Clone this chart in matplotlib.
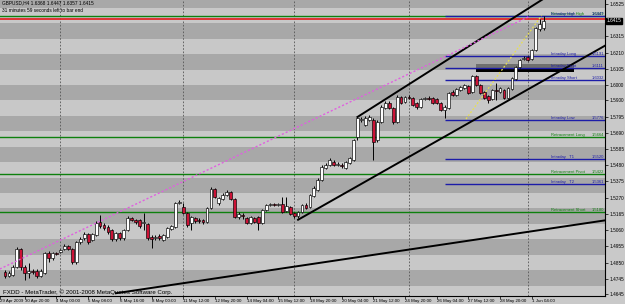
import numpy as np
import matplotlib
matplotlib.use('Agg')
import matplotlib.pyplot as plt

plt.rcParams['font.family'] = ['Liberation Sans', 'DejaVu Sans']

# GBPUSD H4 candles, bar 0 = leftmost visible bar
opens = [1.4788, 1.4763, 1.4769, 1.4821, 1.4937, 1.4821, 1.4782, 1.4795, 1.4795, 1.4763,
         1.4782, 1.4912, 1.4879, 1.4912, 1.4918, 1.4937, 1.4957, 1.4937, 1.4853, 1.4983,
         1.5009, 1.5035, 1.4996, 1.5028, 1.5112, 1.5093, 1.5080, 1.5061, 1.5002, 1.5041,
         1.5009, 1.5061, 1.5138, 1.5125, 1.5125, 1.5106, 1.5099, 1.5015, 1.5009, 1.5022,
         1.4996, 1.5015, 1.5067, 1.5080, 1.5236, 1.5210, 1.5171, 1.5106, 1.5138, 1.5125,
         1.5125, 1.5112, 1.5203, 1.5326, 1.5236, 1.5261, 1.5287, 1.5307, 1.5261, 1.5145,
         1.5158, 1.5138, 1.5106, 1.5138, 1.5145, 1.5106, 1.5190, 1.5223, 1.5229, 1.5223,
         1.5229, 1.5184, 1.5210, 1.5171, 1.5151, 1.5177, 1.5223, 1.5210, 1.5281, 1.5320,
         1.5385, 1.5462, 1.5482, 1.5501, 1.5482, 1.5482, 1.5462, 1.5495, 1.5514, 1.5663,
         1.5773, 1.5741, 1.5773, 1.5773, 1.5644, 1.5760, 1.5851, 1.5884, 1.5851, 1.5760,
         1.5922, 1.5890, 1.5922, 1.5916, 1.5884, 1.5858, 1.5909, 1.5916, 1.5916, 1.5909,
         1.5884, 1.5838, 1.5851, 1.5955, 1.5935, 1.5968, 1.5981, 1.5994, 1.5955, 1.6059,
         1.6000, 1.5955, 1.5929, 1.5909, 1.5968, 1.5955, 1.5968, 1.5916, 1.5974, 1.6039,
         1.6117, 1.6169, 1.6182, 1.6169, 1.6227, 1.6363, 1.6368]
highs = [1.4801, 1.4795, 1.4834, 1.4950, 1.4944, 1.4834, 1.4847, 1.4808, 1.4808, 1.4808,
         1.4918, 1.4925, 1.4918, 1.4918, 1.4937, 1.4970, 1.4963, 1.4944, 1.4989, 1.5015,
         1.5048, 1.5041, 1.5041, 1.5119, 1.5158, 1.5106, 1.5093, 1.5067, 1.5048, 1.5048,
         1.5067, 1.5151, 1.5145, 1.5132, 1.5132, 1.5171, 1.5106, 1.5028, 1.5028, 1.5035,
         1.5035, 1.5080, 1.5093, 1.5242, 1.5255, 1.5236, 1.5177, 1.5151, 1.5145, 1.5138,
         1.5132, 1.5210, 1.5339, 1.5333, 1.5274, 1.5300, 1.5320, 1.5313, 1.5268, 1.5177,
         1.5171, 1.5145, 1.5151, 1.5145, 1.5151, 1.5197, 1.5229, 1.5236, 1.5236, 1.5236,
         1.5274, 1.5274, 1.5216, 1.5177, 1.5184, 1.5229, 1.5236, 1.5294, 1.5346, 1.5398,
         1.5482, 1.5495, 1.5527, 1.5514, 1.5501, 1.5495, 1.5508, 1.5534, 1.5650, 1.5793,
         1.5793, 1.5799, 1.5806, 1.5786, 1.5773, 1.5871, 1.5897, 1.5897, 1.5858, 1.5935,
         1.5929, 1.5929, 1.5935, 1.5922, 1.5890, 1.5916, 1.5922, 1.5929, 1.5922, 1.5916,
         1.5890, 1.5871, 1.5955, 1.5968, 1.5981, 1.5994, 1.6007, 1.6000, 1.6065, 1.6065,
         1.6007, 1.5961, 1.5935, 1.5974, 1.6013, 1.5987, 1.5974, 1.5987, 1.6052, 1.6123,
         1.6169, 1.6188, 1.6188, 1.6233, 1.6376, 1.6428, 1.6447]
lows = [1.4750, 1.4756, 1.4763, 1.4814, 1.4801, 1.4737, 1.4750, 1.4775, 1.4750, 1.4756,
        1.4775, 1.4853, 1.4866, 1.4899, 1.4912, 1.4931, 1.4931, 1.4840, 1.4840, 1.4970,
        1.4996, 1.4970, 1.4989, 1.5022, 1.5074, 1.5061, 1.5035, 1.4989, 1.4989, 1.4996,
        1.4996, 1.5054, 1.5119, 1.5099, 1.5074, 1.5061, 1.4996, 1.4944, 1.4996, 1.4996,
        1.4989, 1.5009, 1.5061, 1.5074, 1.5229, 1.5164, 1.5080, 1.5061, 1.5106, 1.5106,
        1.5099, 1.5106, 1.5197, 1.5268, 1.5223, 1.5255, 1.5281, 1.5255, 1.5138, 1.5132,
        1.5132, 1.5099, 1.5099, 1.5106, 1.5061, 1.5099, 1.5184, 1.5216, 1.5216, 1.5216,
        1.5171, 1.5177, 1.5158, 1.5138, 1.5138, 1.5171, 1.5197, 1.5203, 1.5274, 1.5313,
        1.5378, 1.5456, 1.5475, 1.5475, 1.5475, 1.5462, 1.5456, 1.5488, 1.5508, 1.5644,
        1.5760, 1.5735, 1.5767, 1.5514, 1.5631, 1.5754, 1.5845, 1.5845, 1.5747, 1.5754,
        1.5877, 1.5884, 1.5909, 1.5864, 1.5845, 1.5851, 1.5903, 1.5903, 1.5877, 1.5877,
        1.5832, 1.5786, 1.5845, 1.5929, 1.5929, 1.5961, 1.5974, 1.5942, 1.5948, 1.5994,
        1.5942, 1.5909, 1.5884, 1.5903, 1.5903, 1.5948, 1.5909, 1.5909, 1.5968, 1.6033,
        1.6110, 1.6162, 1.6156, 1.6162, 1.6221, 1.6350, 1.6357]
closes = [1.4763, 1.4782, 1.4821, 1.4937, 1.4821, 1.4782, 1.4795, 1.4788, 1.4763, 1.4795,
          1.4912, 1.4879, 1.4912, 1.4905, 1.4931, 1.4957, 1.4937, 1.4853, 1.4983, 1.5002,
          1.5035, 1.4983, 1.5035, 1.5106, 1.5087, 1.5074, 1.5048, 1.5002, 1.5041, 1.5009,
          1.5061, 1.5138, 1.5125, 1.5112, 1.5087, 1.5112, 1.5009, 1.5002, 1.5015, 1.5009,
          1.5028, 1.5074, 1.5087, 1.5236, 1.5242, 1.5171, 1.5093, 1.5145, 1.5119, 1.5119,
          1.5112, 1.5203, 1.5326, 1.5274, 1.5268, 1.5287, 1.5307, 1.5261, 1.5145, 1.5164,
          1.5151, 1.5106, 1.5145, 1.5112, 1.5106, 1.5190, 1.5223, 1.5229, 1.5223, 1.5229,
          1.5177, 1.5216, 1.5164, 1.5151, 1.5177, 1.5223, 1.5203, 1.5287, 1.5333, 1.5385,
          1.5469, 1.5482, 1.5514, 1.5482, 1.5488, 1.5475, 1.5501, 1.5527, 1.5644, 1.5786,
          1.5780, 1.5786, 1.5793, 1.5631, 1.5760, 1.5858, 1.5884, 1.5851, 1.5760, 1.5922,
          1.5884, 1.5922, 1.5916, 1.5871, 1.5858, 1.5909, 1.5916, 1.5909, 1.5884, 1.5884,
          1.5838, 1.5858, 1.5948, 1.5935, 1.5974, 1.5987, 1.6000, 1.5948, 1.6059, 1.6000,
          1.5948, 1.5916, 1.5903, 1.5968, 1.5961, 1.5981, 1.5916, 1.5981, 1.6046, 1.6117,
          1.6162, 1.6175, 1.6162, 1.6227, 1.6370, 1.6395, 1.6415]

# axis labels
first_time_label = '29 Apr 2009'
time_labels = ['30 Apr 20:00', '4 May 00:00', '5 May 08:00', '6 May 16:00', '8 May 00:00',
               '11 May 12:00', '12 May 20:00', '14 May 04:00', '15 May 12:00', '18 May 20:00',
               '20 May 04:00', '21 May 12:00', '24 May 20:00', '26 May 04:00', '27 May 12:00',
               '28 May 20:00', '1 Jun 04:00']
# the 1.6420 label sits under the current price box
price_labels = ['1.6525', '1.6315', '1.6210', '1.6105', '1.6000', '1.5900', '1.5795',
                '1.5690', '1.5585', '1.5480', '1.5375', '1.5270', '1.5165', '1.5060', '1.4955',
                '1.4850', '1.4745', '1.4645']
week_start_bars = [14, 45, 73, 102, 132]
dark_zones = [1.47, 1.49, 1.51, 1.53, 1.55, 1.57, 1.59, 1.61, 1.63, 1.65]

# level lines
intraday_names = ['Intraday High', 'Intraday Long', 'Intraday Pivot', 'Intraday Short',
                  'Intraday Low', 'Intraday   T1', 'Intraday   T2']
intraday_values = [1.6447, 1.6191, 1.6111, 1.6032, 1.5776, 1.5520, 1.5361]
retr_names = ['Retracement High', 'Retracement Long', 'Retracement Pivot', 'Retracement Short']
retr_values = [1.6449, 1.5664, 1.5422, 1.5180]
red_level = 1.6431
bid = 1.6415

# drawn objects (bar, price)
upper_channel = [(89, 1.5793), (112, 1.6168)]
lower_channel = [(74, 1.5127), (110, 1.5651)]
long_support = [(28, 1.4651), (135, 1.5060)]
pink_line = [(-1.3, 1.4808), (132.6, 1.6447)]
yellow_line = [(116.4, 1.5780), (135.5, 1.6450)]
box_bars = (118.9, 143.7)
box_grey = (1.6104, 1.6136)
box_black = (1.6084, 1.6104)

fig = plt.figure(figsize=(6.25, 3.04), dpi=100)
fig.patch.set_facecolor('#c9c9c9')
ax = fig.add_axes([0, 8 / 304, 605 / 625, 296 / 304])
ax.set_facecolor('#c8c8c8')
ax.set_xlim(-1.26, 151.5)
ax.set_ylim(1.4633, 1.6551)

for z in dark_zones:
    ax.axhspan(z, z + 0.01, color='#a8a8a8', lw=0, zorder=0)

for b in week_start_bars:
    ax.axvline(b, color='#555555', lw=0.6, ls=(0, (2, 2)), zorder=1)

# rectangle object
ax.fill_between(box_bars, box_grey[0], box_grey[1], color='#6f6f6f', lw=0, zorder=2)
ax.fill_between(box_bars, box_black[0], box_black[1], color='black', lw=0, zorder=2)

# full width lines
for v in retr_values:
    ax.axhline(v, color='#0d800d', lw=1.0, zorder=2)
ax.axhline(red_level, color='#e02828', lw=1.3, zorder=2)

blue_start = 111.1
for v in intraday_values:
    ax.hlines(v, blue_start, 151.5, color='#1c1ca8', lw=1.0, zorder=2)

# candles
bars = np.arange(len(opens))
o = np.array(opens)
c = np.array(closes)
up = c >= o
lo = np.minimum(o, c)
h = np.maximum(np.abs(c - o), 0.00006)
ax.vlines(bars, lows, highs, color='black', lw=0.7, zorder=4)
ax.bar(bars[up], h[up], 0.72, bottom=lo[up], color='white', edgecolor='black', lw=0.45, zorder=5)
ax.bar(bars[~up], h[~up], 0.72, bottom=lo[~up], color='#cc1236', edgecolor='black', lw=0.45, zorder=5)


def ray(pts, **kw):
    (x0, y0), (x1, y1) = pts
    k = (y1 - y0) / (x1 - x0)
    ax.plot([x0, 152], [y0, y0 + k * (152 - x0)], **kw)


ray(upper_channel, color='black', lw=1.4, zorder=6)
ray(lower_channel, color='black', lw=1.4, zorder=6)
ray(long_support, color='black', lw=1.4, zorder=6)
ax.plot(*zip(*pink_line), color='#e060e0', lw=1.0, ls=(0, (1.5, 1.5)), zorder=6)
ax.plot(*zip(*yellow_line), color='#e8e050', lw=0.9, ls=(0, (1.5, 1.5)), zorder=6)

# level labels
fs = 3.4
lfs = 3.0
name_x, value_x = 137.9, 151.2
for n, v in zip(retr_names, retr_values):
    ax.text(name_x, v, n, color='#0d800d', fontsize=lfs, va='bottom', ha='left', zorder=7)
    ax.text(value_x, v, f'{v:.4f}', color='#0d800d', fontsize=lfs, va='bottom', ha='right', zorder=7)
for n, v in zip(intraday_names, intraday_values):
    ax.text(name_x, v, n, color='#1c1ca8', fontsize=lfs, va='bottom', ha='left', zorder=7)
    ax.text(value_x, v, f'{v:.4f}', color='#1c1ca8', fontsize=lfs, va='bottom', ha='right', zorder=7)

# header and copyright
ax.text(0.003, 0.998, 'GBPUSD,H4 1.6368 1.6447 1.6357 1.6415', transform=ax.transAxes,
        fontsize=fs, va='top', ha='left', zorder=8)
ax.text(0.003, 0.972, '31 minutes 59 seconds left to bar end', transform=ax.transAxes,
        fontsize=fs, va='top', ha='left', zorder=8)
ax.text(0.005, 0.005, 'FXDD - MetaTrader, © 2001-2008 MetaQuotes Software Corp.',
        transform=ax.transAxes, fontsize=4.4, va='bottom', ha='left', zorder=8)

# axes
for s in ['top', 'left']:
    ax.spines[s].set_visible(False)
for s in ['right', 'bottom']:
    ax.spines[s].set_color('black')
    ax.spines[s].set_linewidth(0.8)

ax.yaxis.tick_right()
ax.set_yticks([float(p) for p in price_labels], price_labels)
ax.tick_params(axis='y', labelsize=fs, length=2, width=0.5, pad=1)

tick_bars = [-1.26] + [5 + 8 * i for i in range(len(time_labels))]
ax.set_xticks(tick_bars, [first_time_label] + time_labels)
ax.tick_params(axis='x', labelsize=3.2, length=2, width=0.5, pad=0.5)
for lbl in ax.get_xticklabels():
    lbl.set_horizontalalignment('left')

ax.text(1.003, bid, '1.6415', transform=ax.get_yaxis_transform(), fontsize=fs, color='white',
        va='center', ha='left', zorder=10, clip_on=False,
        bbox=dict(boxstyle='square,pad=0.15', fc='black', ec='black'))

fig.savefig('out.png', dpi=100)
